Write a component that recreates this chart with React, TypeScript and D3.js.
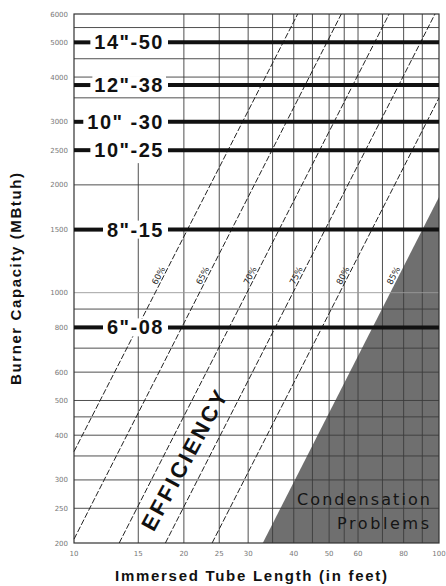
import * as d3 from 'd3'
import { useEffect, useRef } from 'react'

// tube length (ft) and burner capacity (MBtuh) axes, both log
const xTicks = [10, 15, 20, 25, 30, 40, 50, 60, 80, 100]
const yTicks = [200, 250, 300, 400, 500, 600, 800, 1000, 1500, 2000, 2500, 3000, 4000, 5000, 6000]
const xGrid = [15, 20, 25, 30, 35, 40, 45, 50, 55, 60, 70, 80, 90]
const yGrid = [250, 300, 350, 400, 450, 500, 600, 700, 900, 2000, 3500, 4000, 4500, 5500]
const yGridLight = [1000]

// burner sizes: tube diameter - capacity
const burnerLabels = ['14"-50', '12"-38', '10" -30', '10"-25', '8"-15', '6"-08']
const burnerCapacity = [5000, 3800, 3000, 2500, 1500, 800]

// efficiency lines, read as [length, capacity] at both ends
const efficiencyNames = ['60%', '65%', '70%', '75%', '80%', '85%']
const efficiencyStart = [[10, 360], [10, 205], [13.3, 200], [17.8, 200], [23.9, 200], [32.9, 200]]
const efficiencyEnd = [[41, 6000], [54, 6000], [73, 6000], [97.5, 6000], [100, 3500], [100, 1850]]

export default function App() {
  const ref = useRef<SVGSVGElement>(null)

  useEffect(() => {
    const svg = d3.select(ref.current)
    svg.selectAll('*').remove()
    const width = 446
    const height = 586
    const m = { left: 74, right: 439, top: 14, bottom: 543 }

    const x = d3.scaleLog().domain([10, 100]).range([m.left, m.right])
    const y = d3.scaleLog().domain([200, 6000]).range([m.bottom, m.top])

    svg.append('rect').attr('width', width).attr('height', height).attr('fill', '#fff')

    // condensation zone, right of the 85% line
    const zone = [efficiencyStart[5], efficiencyEnd[5], [100, 200]]
    svg.append('path')
      .attr('d', d3.line<number[]>().x(d => x(d[0])).y(d => y(d[1]))(zone) + 'Z')
      .attr('fill', '#6f6f6f')

    const grid = svg.append('g').attr('stroke', '#3c3c3c').attr('stroke-width', 0.9)
    grid.selectAll('.vg').data(xGrid).join('line').attr('class', 'vg')
      .attr('x1', d => x(d)).attr('x2', d => x(d))
      .attr('y1', y(200)).attr('y2', d => (d === 15 ? y(2300) : y(6000)))
    grid.selectAll('.hg').data(yGrid).join('line').attr('class', 'hg')
      .attr('x1', x(10)).attr('x2', x(100))
      .attr('y1', d => y(d)).attr('y2', d => y(d))
    grid.selectAll('.hl').data(yGridLight).join('line').attr('class', 'hl')
      .attr('stroke', '#999')
      .attr('x1', x(10)).attr('x2', x(100))
      .attr('y1', d => y(d)).attr('y2', d => y(d))

    svg.append('rect')
      .attr('x', m.left).attr('y', m.top)
      .attr('width', m.right - m.left).attr('height', m.bottom - m.top)
      .attr('fill', 'none').attr('stroke', '#333').attr('stroke-width', 1.2)

    // efficiency lines (the 85% one is the edge of the grey zone)
    const eff = efficiencyNames.map((name, i) => ({
      name,
      x1: x(efficiencyStart[i][0]), y1: y(efficiencyStart[i][1]),
      x2: x(efficiencyEnd[i][0]), y2: y(efficiencyEnd[i][1]),
    }))
    svg.append('g').selectAll('line').data(eff.slice(0, 5)).join('line')
      .attr('x1', d => d.x1).attr('y1', d => d.y1)
      .attr('x2', d => d.x2).attr('y2', d => d.y2)
      .attr('stroke', '#222').attr('stroke-width', 1)
      .attr('stroke-dasharray', '6,2')

    const atY = (d: typeof eff[0], yy: number) => d.x1 + ((yy - d.y1) / (d.y2 - d.y1)) * (d.x2 - d.x1)
    const labelY = y(1100)
    svg.append('g').selectAll('text').data(eff).join('text')
      .attr('transform', d => {
        const ang = Math.atan2(d.y2 - d.y1, d.x2 - d.x1)
        const len = Math.hypot(d.x2 - d.x1, d.y2 - d.y1)
        const ux = (d.x2 - d.x1) / len
        const uy = (d.y2 - d.y1) / len
        const px = atY(d, labelY) + uy * 2
        const py = labelY - ux * 2
        return `translate(${px},${py}) rotate(${(ang * 180) / Math.PI})`
      })
      .attr('text-anchor', 'middle')
      .attr('font-family', 'DejaVu Sans, sans-serif')
      .attr('font-size', 8.5)
      .attr('fill', '#222')
      .text(d => d.name)

    // burner capacity bars with labels
    const bars = svg.append('g')
    burnerLabels.forEach((label, i) => {
      const yy = y(burnerCapacity[i])
      const t = bars.append('text')
        .attr('x', 164).attr('y', yy + 7)
        .attr('text-anchor', 'end')
        .attr('font-family', 'Liberation Sans, Arial, sans-serif')
        .attr('font-weight', 'bold')
        .attr('font-size', 20)
        .attr('letter-spacing', 1.5)
        .attr('fill', '#111')
        .text(label)
      const b = (t.node() as SVGTextElement).getBBox()
      bars.insert('rect', 'text')
        .attr('x', b.x - 2).attr('y', b.y + 2)
        .attr('width', b.width + 4).attr('height', b.height - 4)
        .attr('fill', '#fff')
      bars.append('line')
        .attr('x1', m.left).attr('x2', b.x - 4)
        .attr('y1', yy).attr('y2', yy)
        .attr('stroke', '#111').attr('stroke-width', 4)
      bars.append('line')
        .attr('x1', b.x + b.width + 4).attr('x2', m.right)
        .attr('y1', yy).attr('y2', yy)
        .attr('stroke', '#111').attr('stroke-width', 4)
    })

    // tick labels
    svg.append('g').selectAll('text').data(xTicks).join('text')
      .attr('x', d => x(d)).attr('y', 556)
      .attr('text-anchor', 'middle')
      .attr('font-family', 'DejaVu Sans, sans-serif')
      .attr('font-size', 7).attr('fill', '#777')
      .text(d => d)
    svg.append('g').selectAll('text').data(yTicks).join('text')
      .attr('x', 68).attr('y', d => y(d) + 2.5)
      .attr('text-anchor', 'end')
      .attr('font-family', 'DejaVu Sans, sans-serif')
      .attr('font-size', 7).attr('fill', '#777')
      .text(d => d)

    // big labels
    const e1 = eff[2]
    const e2 = eff[3]
    const ey = y(340)
    const ex = (atY(e1, ey) + atY(e2, ey)) / 2
    svg.append('text')
      .attr('transform', `translate(${ex},${ey}) rotate(-61.5)`)
      .attr('text-anchor', 'middle').attr('dominant-baseline', 'central')
      .attr('font-family', 'Liberation Sans, Arial, sans-serif')
      .attr('font-weight', 'bold').attr('font-size', 22)
      .attr('textLength', 156).attr('lengthAdjust', 'spacing')
      .attr('fill', '#111')
      .text('EFFICIENCY')

    const cond = svg.append('g')
      .attr('font-family', 'DejaVu Sans, sans-serif')
      .attr('font-size', 16).attr('fill', '#151515')
    cond.append('text').attr('x', 297).attr('y', 505)
      .attr('textLength', 133).attr('lengthAdjust', 'spacing').text('Condensation')
    cond.append('text').attr('x', 337).attr('y', 529)
      .attr('textLength', 92).attr('lengthAdjust', 'spacing').text('Problems')

    svg.append('text')
      .attr('x', 115).attr('y', 581)
      .attr('font-family', 'Liberation Sans, Arial, sans-serif')
      .attr('font-weight', 'bold').attr('font-size', 15)
      .attr('textLength', 272).attr('lengthAdjust', 'spacing')
      .attr('fill', '#111')
      .text('Immersed Tube Length (in feet)')

    svg.append('text')
      .attr('transform', 'translate(21,385) rotate(-90)')
      .attr('font-family', 'Liberation Sans, Arial, sans-serif')
      .attr('font-weight', 'bold').attr('font-size', 15)
      .attr('textLength', 212).attr('lengthAdjust', 'spacing')
      .attr('fill', '#111')
      .text('Burner Capacity (MBtuh)')
  }, [])

  return (
    <svg
      ref={ref}
      width={446}
      height={586}
      style={{ position: 'absolute', left: 0, top: 0 }}
    />
  )
}
